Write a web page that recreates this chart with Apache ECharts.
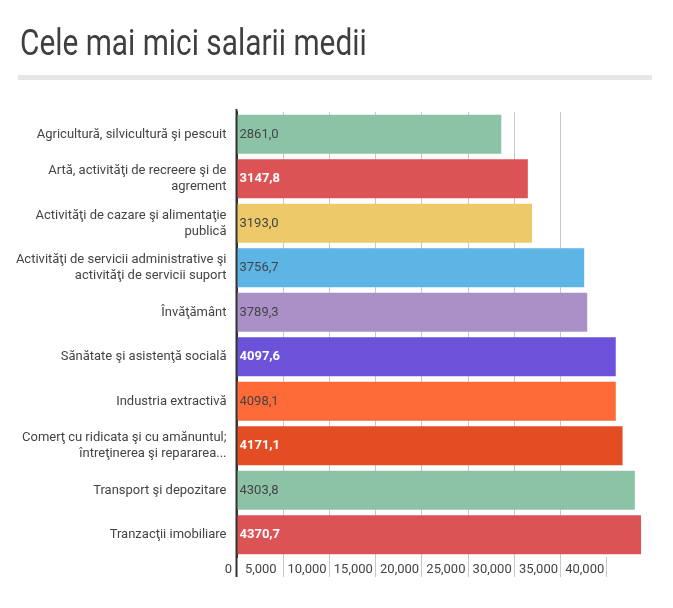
<!DOCTYPE html>
<html>
<head>
<meta charset="utf-8">
<script src="https://cdn.jsdelivr.net/npm/echarts@6/dist/echarts.min.js"></script>
<style>
html,body{margin:0;padding:0;background:#fff;}
#chart{width:673px;height:608px;}
</style>
</head>
<body>
<div id="chart"></div>
<script>
var titleText = 'Cele mai mici salarii medii';
var categories = [
  'Agricultură, silvicultură şi pescuit',
  'Artă, activităţi de recreere şi de\nagrement',
  'Activităţi de cazare şi alimentaţie\npublică',
  'Activităţi de servicii administrative şi\nactivităţi de servicii suport',
  'Învăţământ',
  'Sănătate şi asistenţă socială',
  'Industria extractivă',
  'Comerţ cu ridicata şi cu amănuntul;\nîntreţinerea şi repararea...',
  'Transport şi depozitare',
  'Tranzacţii imobiliare'
];
var values = [2861.0, 3147.8, 3193.0, 3756.7, 3789.3, 4097.6, 4098.1, 4171.1, 4303.8, 4370.7];
var barColors = ['#8cc2a6', '#dc5356', '#eec96a', '#5cb5e4', '#ab90c8', '#6c52d9', '#fe6a38', '#e44c24', '#8cc2a6', '#dc5356'];
var whiteLabel = [false, true, false, false, false, true, false, true, false, true];
var tickValues = [0, 500, 1000, 1500, 2000, 2500, 3000, 3500, 4000];
var tickLabels = ['0', '5,000', '10,000', '15,000', '20,000', '25,000', '30,000', '35,000', '40,000'];

var chart = echarts.init(document.getElementById('chart'), null, {renderer: 'canvas'});

var barData = values.map(function (v, i) {
  return {
    value: v,
    itemStyle: {color: barColors[i]},
    label: whiteLabel[i] ? {color: '#ffffff', fontWeight: 'bold'} : {color: '#444444', fontWeight: 'normal'}
  };
});

var option = {
  backgroundColor: '#ffffff',
  animation: false,
  grid: {left: 236.5, right: 20, top: 112, bottom: 51, containLabel: false},
  xAxis: {
    type: 'value',
    min: 0,
    max: 4500,
    interval: 500,
    axisLine: {show: false},
    axisTick: {show: true, length: 20, customValues: tickValues, lineStyle: {color: '#c8c8c8', width: 1}},
    splitLine: {show: true, showMinLine: false, showMaxLine: false, lineStyle: {color: '#c8c8c8', width: 1}},
    axisLabel: {
      show: true,
      customValues: tickValues,
      margin: 6,
      formatter: function (v) {
        var idx = tickValues.indexOf(v);
        if (idx < 0) return '';
        return idx === 0 ? '{z|' + tickLabels[idx] + '}' : '{a|' + tickLabels[idx] + '}';
      },
      rich: {
        a: {fontFamily: 'Roboto', fontSize: 13, color: '#444', padding: [0, 44, 0, 0]},
        z: {fontFamily: 'Roboto', fontSize: 13, color: '#444', padding: [0, 16, 0, 0]}
      }
    }
  },
  yAxis: {
    type: 'category',
    inverse: true,
    data: categories,
    axisLine: {show: true, lineStyle: {color: '#333333', width: 2}},
    axisTick: {show: false},
    splitLine: {show: false},
    axisLabel: {
      fontFamily: 'Roboto',
      fontSize: 13,
      color: '#444',
      margin: 10,
      lineHeight: 16,
      align: 'right'
    }
  },
  series: [{
    type: 'bar',
    data: barData,
    barCategoryGap: '12%',
    label: {
      show: true,
      position: 'insideLeft',
      distance: 3,
      fontFamily: 'Roboto',
      fontSize: 13,
      formatter: function (p) { return p.value.toFixed(1).replace('.', ','); }
    }
  }],
  graphic: [
    {type: 'text', x: 20, y: 27, scaleX: 0.806, scaleY: 1,
     style: {text: titleText, fontFamily: 'Roboto', fontSize: 37, fontWeight: 'normal', fill: '#3f3f3f', align: 'left', verticalAlign: 'top'}},
    {type: 'rect', left: 18, top: 75, shape: {width: 634, height: 5}, style: {fill: '#e6e6e6'}},
    {type: 'rect', left: 235.5, top: 109, shape: {width: 2, height: 468}, style: {fill: '#333333'}, z: 10}
  ]
};
chart.setOption(option);
</script>
</body>
</html>
